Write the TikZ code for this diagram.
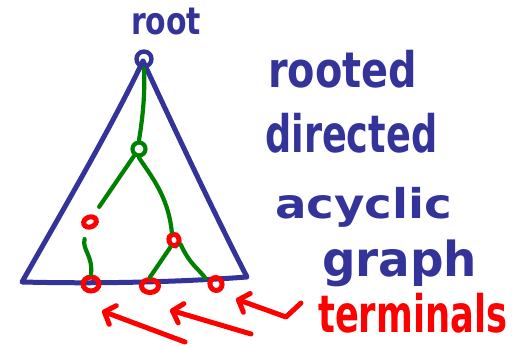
\documentclass[tikz,border=0pt]{standalone}
\usepackage{fontspec}
\usepackage{graphicx}
\setmainfont{DejaVu Sans}
\usetikzlibrary{arrows.meta,shapes.geometric}
\definecolor{inkblue}{RGB}{51,51,153}
\definecolor{inkgreen}{RGB}{0,128,0}
\definecolor{inkred}{RGB}{255,0,0}
\tikzset{
  tri/.style={draw=inkblue,line width=5pt,line join=round,line cap=round},
  gedge/.style={draw=inkgreen,line width=4.2pt,line cap=round},
  rootnode/.style={draw=inkblue,line width=4.4pt,circle,minimum size=15pt,inner sep=0pt},
  gnode/.style={draw=inkgreen,line width=4.2pt,circle,minimum size=13pt,inner sep=0pt},
  rnode/.style={draw=inkred,line width=5pt,ellipse,inner sep=0pt},
  rarrow/.style={draw=inkred,line width=5pt,line cap=round,line join=round,
    -{Straight Barb[length=9pt,width=20pt,line width=5pt,round]}},
  lbl/.style={inner sep=0pt,anchor=north west,font=\bfseries},
}
\begin{document}
\begin{tikzpicture}[x=1pt,y=-1pt]
\useasboundingbox (0,0) rectangle (528,347);
% triangle
\coordinate (apex) at (143,61);
\coordinate (bl) at (22,282);
\coordinate (br) at (247,277);
\draw[tri] (apex) .. controls (110,130) and (60,215) .. (bl)
  .. controls (100,284) and (180,282) .. (br)
  .. controls (215,215) and (175,130) .. (apex);
% nodes
\node[rootnode] (root) at (144,59) {};
\node[gnode] (g) at (139,149) {};
\node[rnode,minimum width=13pt,minimum height=10pt,rotate=20] (r1) at (90,222) {};
\node[rnode,minimum width=10pt,minimum height=12pt,rotate=15] (r2) at (174,240) {};
\node[rnode,minimum width=16pt,minimum height=14pt] (t1) at (91,284) {};
\node[rnode,minimum width=17pt,minimum height=13pt] (t2) at (150,286) {};
\node[rnode,minimum width=12pt,minimum height=13pt,rotate=20] (t3) at (216,284) {};
% green edges
\draw[gedge] (root.south) .. controls (145,95) and (143,115) .. (g.north);
\draw[gedge] (g.south west) ++(1,1) -- ([shift={(5,-8)}]r1.north east);
\draw[gedge] (g.south) .. controls (150,175) and (168,195) .. (r2.north);
\draw[gedge] ([shift={(-8,10)}]r1.south) .. controls (82,250) and (93,255) .. (t1.north);
\draw[gedge] (r2.south west) .. controls (165,255) and (155,270) .. (t2.north);
\draw[gedge] (r2.south east) .. controls (190,265) and (200,270) .. ([shift={(-3,-2)}]t3.north west);
% arrows
\coordinate (a1t) at (185,342);
\coordinate (a1h) at (102,311);
\coordinate (a2t) at (251,334);
\coordinate (a2h) at (170,310);
\coordinate (a3t) at (301,303);
\coordinate (a3k) at (286,317);
\coordinate (a3h) at (236,299);
\draw[rarrow] (a1t) -- (a1h);
\draw[rarrow] (a2t) -- (a2h);
\draw[rarrow] (a3t) -- (a3k) -- (a3h);
% labels
\node[lbl,text=inkblue] (lroot) at (131,8) {\resizebox*{70pt}{27pt}{root}};
\node[lbl,text=inkblue] (l1) at (268,50) {\resizebox*{149pt}{38pt}{rooted}};
\node[lbl,text=inkblue] (l2) at (265,113) {\resizebox*{172pt}{40pt}{directed}};
\node[lbl,text=inkblue] (l3) at (275,187) {\resizebox*{177pt}{40pt}{acyclic}};
\node[lbl,text=inkblue] (l4) at (322,240) {\resizebox*{155pt}{47pt}{graph}};
\node[lbl,text=inkred] (l5) at (318,293) {\resizebox*{189pt}{40pt}{terminals}};
\end{tikzpicture}
\end{document}
